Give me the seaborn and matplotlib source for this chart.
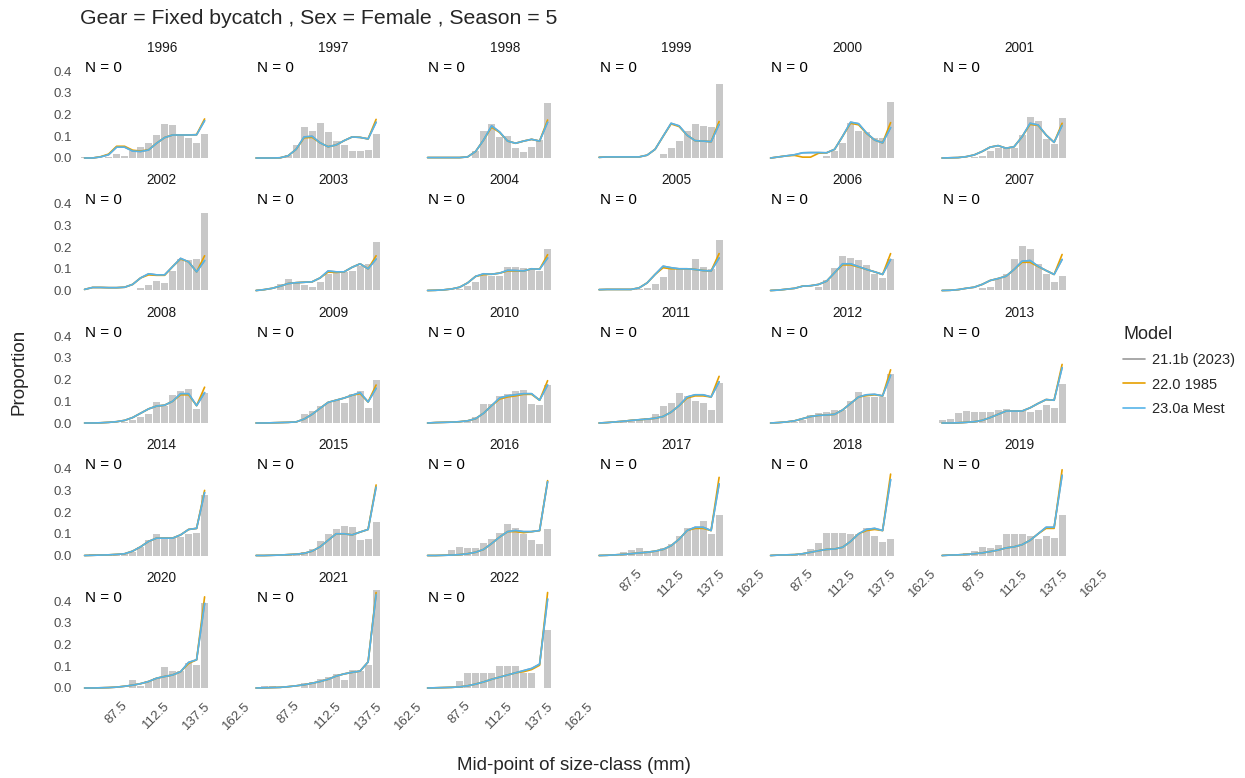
import matplotlib
matplotlib.use("Agg")
import matplotlib.pyplot as plt
import numpy as np
import pandas as pd
import seaborn as sns

# size classes (mid-points, mm) and survey years
size_mid = [67.5, 72.5, 77.5, 82.5, 87.5, 92.5, 97.5, 102.5,
            107.5, 112.5, 117.5, 122.5, 127.5, 132.5, 137.5, 142.5]
years = [1996, 1997, 1998, 1999, 2000, 2001, 2002, 2003, 2004, 2005,
         2006, 2007, 2008, 2009, 2010, 2011, 2012, 2013, 2014, 2015,
         2016, 2017, 2018, 2019, 2020, 2021, 2022]

models = ["21.1b (2023)", "22.0 1985", "23.0a Mest"]
model_colors = ["#999999", "#E69F00", "#56B4E9"]

# observed proportions (grey bars), one row per year
obs = [
    [0.005, 0, 0, 0.005, 0.018, 0.01, 0.03, 0.05, 0.068, 0.106, 0.157, 0.152, 0.106, 0.092, 0.068, 0.112],
    [0, 0, 0, 0, 0.015, 0.06, 0.145, 0.125, 0.16, 0.12, 0.077, 0.06, 0.032, 0.032, 0.037, 0.11],
    [0, 0, 0, 0, 0, 0, 0.03, 0.125, 0.155, 0.098, 0.1, 0.048, 0.026, 0.052, 0.083, 0.252],
    [0, 0, 0, 0, 0, 0, 0, 0, 0.018, 0.045, 0.078, 0.125, 0.157, 0.148, 0.145, 0.34],
    [0, 0, 0, 0, 0, 0, 0, 0.01, 0.03, 0.068, 0.16, 0.125, 0.118, 0.094, 0.094, 0.26],
    [0, 0, 0, 0, 0.003, 0.01, 0.03, 0.048, 0.045, 0.045, 0.106, 0.19, 0.17, 0.088, 0.063, 0.186],
    [0, 0, 0, 0, 0, 0.002, 0, 0.012, 0.025, 0.043, 0.035, 0.092, 0.146, 0.14, 0.146, 0.358],
    [0, 0, 0, 0.028, 0.054, 0.038, 0.025, 0.017, 0.04, 0.075, 0.083, 0.083, 0.09, 0.112, 0.122, 0.225],
    [0, 0, 0, 0, 0.005, 0.02, 0.04, 0.07, 0.066, 0.066, 0.11, 0.11, 0.105, 0.1, 0.088, 0.19],
    [0, 0, 0, 0, 0, 0.005, 0.012, 0.028, 0.063, 0.1, 0.1, 0.1, 0.143, 0.11, 0.1, 0.235],
    [0, 0, 0, 0, 0, 0.003, 0.017, 0.05, 0.105, 0.158, 0.15, 0.14, 0.117, 0.074, 0.058, 0.143],
    [0, 0, 0, 0, 0, 0.01, 0.015, 0.055, 0.077, 0.143, 0.205, 0.19, 0.123, 0.074, 0.038, 0.068],
    [0, 0, 0, 0, 0, 0.005, 0.012, 0.028, 0.043, 0.097, 0.077, 0.128, 0.148, 0.158, 0.066, 0.14],
    [0, 0, 0, 0, 0, 0, 0.043, 0.055, 0.077, 0.09, 0.105, 0.092, 0.135, 0.148, 0.07, 0.197],
    [0, 0, 0, 0, 0, 0.012, 0.028, 0.086, 0.086, 0.123, 0.135, 0.146, 0.15, 0.086, 0.082, 0.174],
    [0, 0, 0, 0.005, 0.008, 0.015, 0.023, 0.043, 0.077, 0.092, 0.138, 0.123, 0.1, 0.09, 0.058, 0.185],
    [0, 0, 0, 0.005, 0.015, 0.035, 0.045, 0.05, 0.06, 0.062, 0.1, 0.145, 0.12, 0.12, 0.12, 0.225],
    [0.012, 0.02, 0.045, 0.053, 0.05, 0.05, 0.05, 0.06, 0.066, 0.055, 0.055, 0.05, 0.058, 0.084, 0.068, 0.178],
    [0, 0.008, 0.005, 0.003, 0.002, 0.005, 0.015, 0.038, 0.07, 0.097, 0.086, 0.086, 0.086, 0.098, 0.105, 0.28],
    [0, 0, 0, 0, 0.004, 0.008, 0.015, 0.028, 0.066, 0.097, 0.123, 0.135, 0.132, 0.07, 0.075, 0.155],
    [0, 0, 0.003, 0.025, 0.038, 0.033, 0.035, 0.058, 0.077, 0.105, 0.143, 0.128, 0.1, 0.073, 0.055, 0.123],
    [0, 0, 0, 0.017, 0.025, 0.035, 0.023, 0.023, 0.035, 0.055, 0.09, 0.128, 0.12, 0.158, 0.097, 0.185],
    [0, 0.004, 0.005, 0.006, 0.008, 0.028, 0.058, 0.105, 0.105, 0.102, 0.1, 0.1, 0.125, 0.09, 0.062, 0.077],
    [0, 0, 0, 0.012, 0.023, 0.038, 0.035, 0.05, 0.1, 0.1, 0.097, 0.092, 0.077, 0.09, 0.082, 0.185],
    [0, 0, 0, 0, 0, 0, 0.035, 0.01, 0.03, 0.047, 0.097, 0.077, 0.08, 0.115, 0.105, 0.39],
    [0, 0.008, 0.008, 0, 0, 0, 0.025, 0.028, 0.04, 0.05, 0.065, 0.036, 0.085, 0.077, 0.105, 0.45],
    [0, 0, 0, 0, 0.033, 0.067, 0.067, 0.067, 0.067, 0.1, 0.1, 0.1, 0.067, 0.067, 0, 0.267],
]

# model 23.0a Mest fit (blue line)
fit_230a = [
    [0, 0, 0.005, 0.015, 0.05, 0.05, 0.032, 0.03, 0.037, 0.068, 0.094, 0.106, 0.106, 0.106, 0.107, 0.172],
    [0, 0, 0, 0.001, 0.01, 0.04, 0.097, 0.1, 0.07, 0.052, 0.06, 0.08, 0.097, 0.095, 0.088, 0.165],
    [0.002, 0.002, 0.002, 0.002, 0.002, 0.005, 0.03, 0.083, 0.148, 0.12, 0.078, 0.068, 0.078, 0.086, 0.078, 0.165],
    [0.003, 0.005, 0.005, 0.005, 0.005, 0.005, 0.013, 0.04, 0.1, 0.16, 0.148, 0.105, 0.08, 0.078, 0.075, 0.155],
    [0, 0.005, 0.01, 0.015, 0.024, 0.025, 0.025, 0.024, 0.04, 0.1, 0.165, 0.158, 0.115, 0.083, 0.07, 0.14],
    [0, 0.001, 0.002, 0.006, 0.014, 0.03, 0.05, 0.057, 0.045, 0.052, 0.098, 0.16, 0.152, 0.106, 0.072, 0.15],
    [0.005, 0.014, 0.014, 0.013, 0.013, 0.015, 0.028, 0.058, 0.077, 0.072, 0.072, 0.11, 0.148, 0.132, 0.086, 0.138],
    [0, 0.004, 0.01, 0.02, 0.032, 0.036, 0.038, 0.04, 0.058, 0.09, 0.086, 0.086, 0.107, 0.123, 0.1, 0.145],
    [0, 0.001, 0.003, 0.007, 0.015, 0.035, 0.065, 0.077, 0.075, 0.08, 0.093, 0.092, 0.09, 0.1, 0.098, 0.15],
    [0.004, 0.005, 0.005, 0.005, 0.005, 0.012, 0.035, 0.074, 0.112, 0.105, 0.1, 0.1, 0.097, 0.092, 0.09, 0.15],
    [0, 0.002, 0.006, 0.01, 0.02, 0.022, 0.028, 0.043, 0.082, 0.123, 0.123, 0.11, 0.097, 0.086, 0.074, 0.143],
    [0, 0.001, 0.004, 0.01, 0.015, 0.028, 0.046, 0.055, 0.066, 0.097, 0.135, 0.138, 0.112, 0.092, 0.074, 0.143],
    [0, 0, 0.001, 0.003, 0.006, 0.012, 0.025, 0.045, 0.065, 0.078, 0.082, 0.1, 0.135, 0.135, 0.08, 0.14],
    [0, 0, 0.001, 0.002, 0.003, 0.005, 0.018, 0.04, 0.068, 0.095, 0.105, 0.115, 0.128, 0.14, 0.097, 0.16],
    [0, 0.002, 0.003, 0.004, 0.006, 0.01, 0.02, 0.045, 0.08, 0.115, 0.125, 0.13, 0.135, 0.135, 0.105, 0.175],
    [0, 0.002, 0.005, 0.008, 0.012, 0.015, 0.018, 0.022, 0.03, 0.05, 0.08, 0.12, 0.13, 0.13, 0.12, 0.19],
    [0, 0.002, 0.005, 0.01, 0.02, 0.03, 0.035, 0.037, 0.04, 0.06, 0.09, 0.12, 0.13, 0.132, 0.125, 0.22],
    [0, 0, 0.001, 0.003, 0.006, 0.012, 0.025, 0.04, 0.055, 0.055, 0.055, 0.07, 0.09, 0.108, 0.105, 0.255],
    [0, 0.001, 0.002, 0.003, 0.005, 0.008, 0.02, 0.04, 0.065, 0.08, 0.08, 0.08, 0.095, 0.12, 0.125, 0.29],
    [0, 0, 0.001, 0.002, 0.004, 0.006, 0.01, 0.02, 0.04, 0.07, 0.1, 0.1, 0.095, 0.108, 0.12, 0.315],
    [0, 0, 0.001, 0.002, 0.004, 0.008, 0.015, 0.028, 0.055, 0.085, 0.11, 0.115, 0.11, 0.11, 0.115, 0.34],
    [0, 0.001, 0.003, 0.005, 0.008, 0.012, 0.015, 0.02, 0.028, 0.045, 0.075, 0.115, 0.13, 0.13, 0.115, 0.33],
    [0, 0.002, 0.003, 0.004, 0.008, 0.015, 0.022, 0.028, 0.03, 0.038, 0.065, 0.1, 0.12, 0.125, 0.115, 0.35],
    [0, 0.002, 0.003, 0.005, 0.008, 0.012, 0.018, 0.025, 0.035, 0.04, 0.05, 0.07, 0.1, 0.13, 0.13, 0.37],
    [0, 0, 0.001, 0.002, 0.004, 0.008, 0.013, 0.02, 0.03, 0.045, 0.053, 0.06, 0.075, 0.118, 0.13, 0.39],
    [0, 0.001, 0.002, 0.003, 0.006, 0.01, 0.015, 0.022, 0.03, 0.04, 0.055, 0.065, 0.072, 0.078, 0.12, 0.43],
    [0, 0.001, 0.002, 0.003, 0.005, 0.01, 0.018, 0.028, 0.04, 0.05, 0.06, 0.07, 0.08, 0.09, 0.11, 0.41],
]

# model 22.0 1985 fit (orange line)
fit_220 = [
    [0, 0, 0.006, 0.018, 0.054, 0.054, 0.036, 0.032, 0.038, 0.068, 0.094, 0.106, 0.106, 0.106, 0.108, 0.18],
    [0, 0, 0, 0.001, 0.01, 0.04, 0.093, 0.095, 0.07, 0.052, 0.06, 0.08, 0.097, 0.095, 0.088, 0.178],
    [0.002, 0.002, 0.002, 0.002, 0.002, 0.005, 0.03, 0.083, 0.142, 0.118, 0.078, 0.068, 0.078, 0.086, 0.078, 0.175],
    [0.003, 0.005, 0.005, 0.005, 0.005, 0.005, 0.013, 0.04, 0.1, 0.157, 0.145, 0.105, 0.08, 0.078, 0.075, 0.168],
    [0, 0.005, 0.01, 0.012, 0.004, 0.004, 0.022, 0.024, 0.04, 0.1, 0.16, 0.153, 0.113, 0.083, 0.07, 0.163],
    [0, 0.001, 0.002, 0.006, 0.014, 0.03, 0.05, 0.057, 0.045, 0.052, 0.098, 0.155, 0.15, 0.106, 0.072, 0.16],
    [0.005, 0.014, 0.014, 0.013, 0.013, 0.015, 0.028, 0.058, 0.072, 0.07, 0.07, 0.11, 0.145, 0.132, 0.086, 0.16],
    [0, 0.004, 0.01, 0.02, 0.032, 0.036, 0.038, 0.04, 0.058, 0.085, 0.083, 0.086, 0.107, 0.123, 0.1, 0.16],
    [0, 0.001, 0.003, 0.007, 0.015, 0.035, 0.065, 0.073, 0.075, 0.08, 0.09, 0.09, 0.09, 0.1, 0.098, 0.165],
    [0.004, 0.005, 0.005, 0.005, 0.005, 0.012, 0.035, 0.074, 0.105, 0.1, 0.1, 0.1, 0.097, 0.092, 0.09, 0.17],
    [0, 0.002, 0.006, 0.01, 0.02, 0.022, 0.028, 0.043, 0.082, 0.118, 0.118, 0.108, 0.097, 0.086, 0.074, 0.17],
    [0, 0.001, 0.004, 0.01, 0.015, 0.028, 0.046, 0.055, 0.066, 0.097, 0.13, 0.13, 0.11, 0.092, 0.074, 0.166],
    [0, 0, 0.001, 0.003, 0.006, 0.012, 0.025, 0.045, 0.065, 0.078, 0.082, 0.1, 0.13, 0.13, 0.08, 0.165],
    [0, 0, 0.001, 0.002, 0.003, 0.005, 0.018, 0.04, 0.068, 0.095, 0.105, 0.115, 0.128, 0.135, 0.097, 0.175],
    [0, 0.002, 0.003, 0.004, 0.006, 0.01, 0.02, 0.045, 0.08, 0.11, 0.12, 0.125, 0.132, 0.132, 0.105, 0.195],
    [0, 0.002, 0.005, 0.008, 0.012, 0.015, 0.018, 0.022, 0.03, 0.05, 0.08, 0.115, 0.125, 0.125, 0.12, 0.215],
    [0, 0.002, 0.005, 0.01, 0.02, 0.03, 0.035, 0.037, 0.04, 0.06, 0.09, 0.12, 0.126, 0.13, 0.125, 0.245],
    [0, 0, 0.001, 0.003, 0.006, 0.012, 0.025, 0.04, 0.055, 0.055, 0.055, 0.07, 0.09, 0.108, 0.105, 0.27],
    [0, 0.001, 0.002, 0.003, 0.005, 0.008, 0.02, 0.04, 0.065, 0.08, 0.08, 0.08, 0.095, 0.12, 0.125, 0.3],
    [0, 0, 0.001, 0.002, 0.004, 0.006, 0.01, 0.02, 0.04, 0.07, 0.1, 0.1, 0.095, 0.108, 0.12, 0.325],
    [0, 0, 0.001, 0.002, 0.004, 0.008, 0.015, 0.028, 0.055, 0.085, 0.11, 0.11, 0.105, 0.11, 0.115, 0.345],
    [0, 0.001, 0.003, 0.005, 0.008, 0.012, 0.015, 0.02, 0.028, 0.045, 0.075, 0.115, 0.125, 0.125, 0.115, 0.36],
    [0, 0.002, 0.003, 0.004, 0.008, 0.015, 0.022, 0.028, 0.03, 0.038, 0.065, 0.1, 0.115, 0.12, 0.115, 0.375],
    [0, 0.002, 0.003, 0.005, 0.008, 0.012, 0.018, 0.025, 0.035, 0.04, 0.05, 0.07, 0.1, 0.125, 0.125, 0.395],
    [0, 0, 0.001, 0.002, 0.004, 0.008, 0.013, 0.02, 0.03, 0.045, 0.053, 0.06, 0.075, 0.113, 0.13, 0.42],
    [0, 0.001, 0.002, 0.003, 0.006, 0.01, 0.015, 0.022, 0.03, 0.04, 0.055, 0.065, 0.072, 0.078, 0.12, 0.44],
    [0, 0.001, 0.002, 0.003, 0.005, 0.01, 0.018, 0.028, 0.04, 0.05, 0.06, 0.07, 0.075, 0.085, 0.105, 0.44],
]

# model 21.1b (2023) sits exactly under the 23.0a line in the picture
fit_211b = fit_230a

# long tables
obs_rows = []
fit_rows = []
for yi, yr in enumerate(years):
    for k, m in enumerate(size_mid):
        obs_rows.append((yr, m, obs[yi][k]))
        for name, fit in zip(models, [fit_211b, fit_220, fit_230a]):
            fit_rows.append((yr, m, name, fit[yi][k]))
df_obs = pd.DataFrame(obs_rows, columns=["Year", "Size", "Proportion"])
df_fit = pd.DataFrame(fit_rows, columns=["Year", "Size", "Model", "Proportion"])

sns.set_style("white")
plt.rcParams["font.family"] = ["Liberation Sans", "DejaVu Sans"]

W, H = 1245, 778
fig = plt.figure(figsize=(W / 100, H / 100), dpi=100)

ncol = 6
ymax = max(df_obs["Proportion"].max(), df_fit["Proportion"].max())
ylo, yhi = -0.05 * ymax, 1.05 * ymax
px_per_unit = 217.0
col_pitch, row_pitch = 171.5, 132.5
panel_w = 165.6
panel_h = (yhi - ylo) * px_per_unit
n = len(years)
bottom_start = n - ncol

axes = []
for i, yr in enumerate(years):
    r, c = divmod(i, ncol)
    left = 79 + col_pitch * c
    zero_y = 158 + row_pitch * r
    bot = zero_y - ylo * px_per_unit
    ax = fig.add_axes([left / W, 1 - bot / H, panel_w / W, panel_h / H])
    axes.append(ax)

    sub = df_obs[df_obs["Year"] == yr]
    sns.barplot(data=sub, x="Size", y="Proportion", native_scale=True,
                width=0.9, color="#C8C8C8", saturation=1, errorbar=None,
                linewidth=0, ax=ax)
    fsub = df_fit[df_fit["Year"] == yr]
    sns.lineplot(data=fsub, x="Size", y="Proportion", hue="Model",
                 hue_order=models, palette=model_colors, linewidth=1.2,
                 sort=False, legend=(i == 0), ax=ax)

    ax.set_xlim(64, 167.5)
    ax.set_ylim(ylo, yhi)
    ax.set_xlabel("")
    ax.set_ylabel("")
    sns.despine(ax=ax, left=True, bottom=True)
    ax.set_title(str(yr), fontsize=9.8, color="#1A1A1A", pad=2.5)
    ax.text(68, 0.415, "N = 0", fontsize=11, ha="left", va="center", color="black")

    ax.set_xticks([87.5, 112.5, 137.5, 162.5])
    ax.set_xticklabels(["87.5", "112.5", "137.5", "162.5"])
    ax.set_yticks([0, 0.1, 0.2, 0.3, 0.4])
    ax.set_yticklabels(["0.0", "0.1", "0.2", "0.3", "0.4"])
    ax.tick_params(axis="both", colors="#333333", labelcolor="#4D4D4D",
                   labelsize=9.5, length=3, width=0.8, pad=2)
    if i >= bottom_start:
        plt.setp(ax.get_xticklabels(), rotation=45, ha="center", va="top")
    else:
        ax.tick_params(axis="x", bottom=False, labelbottom=False)
    if c != 0:
        ax.tick_params(axis="y", left=False, labelleft=False)

handles, labels = axes[0].get_legend_handles_labels()
axes[0].get_legend().remove()
fig.legend(handles, labels, title="Model", loc="upper left",
           bbox_to_anchor=(1110 / W, 1 - 313 / H), frameon=False,
           fontsize=10.5, title_fontsize=13, alignment="left",
           handlelength=1.5, handletextpad=0.45, labelspacing=0.7)

fig.text(80 / W, 1 - 18 / H, "Gear = Fixed bycatch , Sex = Female , Season = 5",
         fontsize=15.3, ha="left", va="center")
fig.text(19 / W, 1 - 372 / H, "Proportion", rotation=90, fontsize=13.5,
         ha="center", va="center")
fig.text(574 / W, 1 - 766 / H, "Mid-point of size-class (mm)", fontsize=13.5,
         ha="center", va="center")

fig.savefig("out.png", dpi=100)
